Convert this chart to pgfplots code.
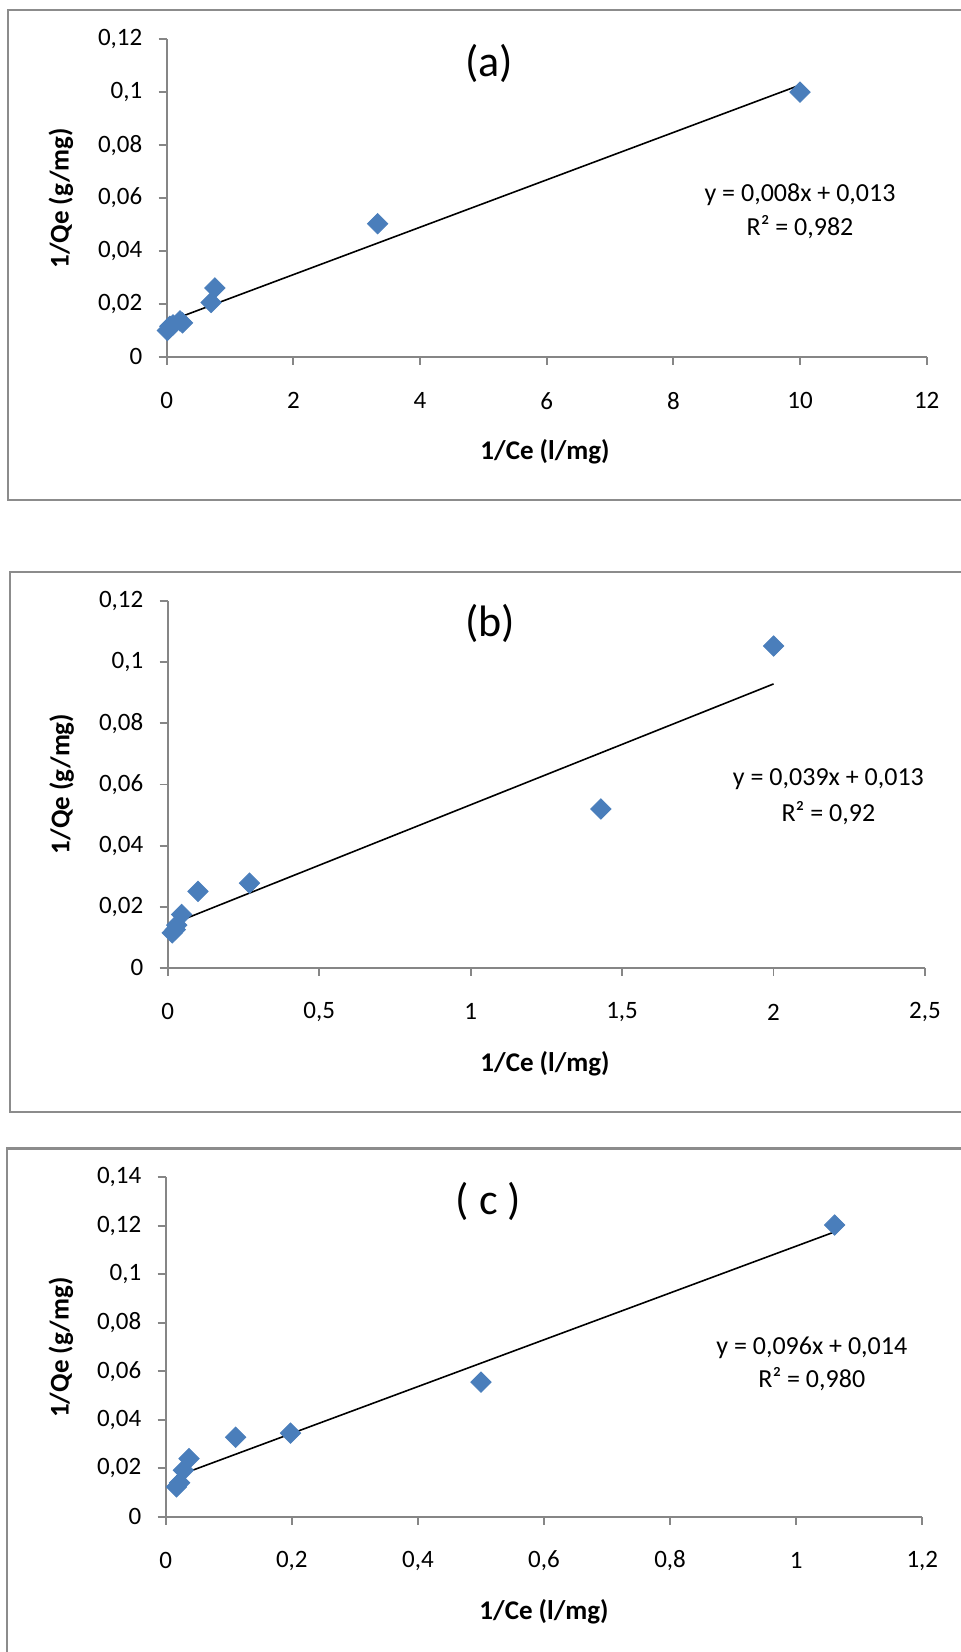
\documentclass[border=0pt]{standalone}
\usepackage{fontspec}
\setmainfont{Carlito}
\usepackage{pgfplots}
\pgfplotsset{compat=1.18}
\definecolor{mkblue}{RGB}{74,126,187}
\definecolor{axgray}{RGB}{134,134,134}
\definecolor{frgray}{RGB}{140,140,140}
\pgfplotsset{
 excel/.style={
  scale only axis, anchor=south west, clip=false,
  axis x line=bottom, axis y line=left,
  axis line style={axgray, line width=0.9pt, -},
  tick style={axgray, line width=0.9pt},
  tick align=outside, major tick length=4pt,
  /pgf/number format/assume math mode=true,
  /pgf/number format/use comma,
  /pgf/number format/fixed,
  /pgf/number format/precision=2,
  scaled ticks=false,
  tick label style={font=\fontsize{12.5}{15}\selectfont},
  xticklabel style={anchor=center, yshift=-18pt, inner sep=0pt},
  yticklabel style={anchor=east, xshift=-8pt, inner sep=0pt},
 },
 pts/.style={only marks, mark=square*, mark size=3.6pt, mark options={rotate=45, fill=mkblue, draw=none}, color=mkblue},
 trend/.style={no marks, black, line width=0.8pt},
}
\begin{document}
\begin{tikzpicture}
\useasboundingbox (0,0) rectangle (480.5pt,-826pt);
\clip (0,0) rectangle (480.5pt,-826pt);
% frames
\draw[frgray, line width=1.1pt] (4.15pt,-5pt) rectangle (490pt,-250pt);
\draw[frgray, line width=1.1pt] (5pt,-285.9pt) rectangle (490pt,-555.9pt);
\draw[frgray, line width=1.1pt] (3.65pt,-574.2pt) rectangle (490pt,-840pt);

% (a)
\begin{axis}[excel, at={(83.35pt,-178.35pt)}, width=380pt, height=158.7pt,
  xmin=0, xmax=12, ymin=0, ymax=0.12,
  xtick={0,2,4,6,8,10,12}, ytick={0,0.02,0.04,0.06,0.08,0.1,0.12}]
\addplot[pts] coordinates {(0.01,0.0099) (0.05,0.0115) (0.1,0.012) (0.21,0.0135) (0.25,0.0128) (0.7,0.0205) (0.76,0.026) (3.33,0.0503) (10,0.1)};
\addplot[trend] coordinates {(0.01,0.0132) (10,0.1027)};
\end{axis}

% (b)
\begin{axis}[excel, at={(83.85pt,-483.95pt)}, width=378.65pt, height=183.4pt,
  xmin=0, xmax=2.5, ymin=0, ymax=0.12,
  xtick={0,0.5,1,1.5,2,2.5}, ytick={0,0.02,0.04,0.06,0.08,0.1,0.12}]
\addplot[pts] coordinates {(0.015,0.0115) (0.025,0.0125) (0.03,0.014) (0.046,0.0175) (0.1,0.025) (0.27,0.0277) (1.43,0.052) (2.0,0.1053)};
\addplot[trend] coordinates {(0.015,0.0144) (2.0,0.0929)};
\end{axis}

% (c)
\begin{axis}[excel, at={(82.85pt,-758.35pt)}, width=378.3pt, height=169.7pt,
  xmin=0, xmax=1.2, ymin=0, ymax=0.14,
  xtick={0,0.2,0.4,0.6,0.8,1,1.2}, ytick={0,0.02,0.04,0.06,0.08,0.1,0.12,0.14}]
\addplot[pts] coordinates {(0.017,0.0123) (0.022,0.014) (0.028,0.0192) (0.037,0.024) (0.111,0.0328) (0.198,0.0345) (0.5,0.0555) (1.061,0.1203)};
\addplot[trend] coordinates {(0.017,0.0167) (1.061,0.1175)};
\end{axis}

% titles
\node[font=\fontsize{22}{26}\selectfont] at (244.5pt,-31.7pt) {(a)};
\node[font=\fontsize{22}{26}\selectfont] at (245pt,-311.7pt) {(b)};
\node[font=\fontsize{22}{26}\selectfont] at (244.2pt,-600.8pt) {( c )};
% equations
\begin{scope}[every node/.style={font=\fontsize{13}{15}\selectfont, inner sep=0pt}]
\node at (400pt,-97.2pt) {y = 0,008x + 0,013};
\node at (400pt,-113.5pt) {R² = 0,982};
\node at (414.2pt,-389.8pt) {y = 0,039x + 0,013};
\node at (414.2pt,-406.5pt) {R² = 0,92};
\node at (405.9pt,-673.7pt) {y = 0,096x + 0,014};
\node at (405.9pt,-689.7pt) {R² = 0,980};
\end{scope}
% axis labels
\begin{scope}[every node/.style={font=\bfseries\fontsize{13.5}{16}\selectfont, inner sep=0pt}]
\node at (272.5pt,-225.9pt) {1/Ce (l/mg)};
\node at (272.5pt,-531.8pt) {1/Ce (l/mg)};
\node at (272pt,-805.9pt) {1/Ce (l/mg)};
\node[rotate=90] at (30.4pt,-99.2pt) {1/Qe (g/mg)};
\node[rotate=90] at (30.8pt,-392pt) {1/Qe (g/mg)};
\node[rotate=90] at (30.4pt,-673.75pt) {1/Qe (g/mg)};
\end{scope}
\end{tikzpicture}
\end{document}
